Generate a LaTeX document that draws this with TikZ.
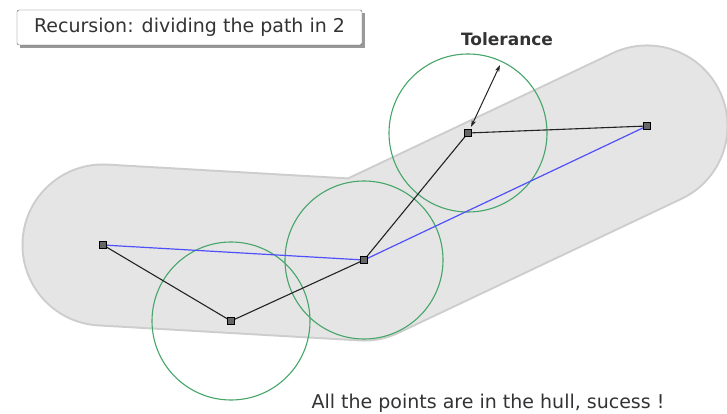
\documentclass[tikz,border=0pt]{standalone}
\usepackage{fontspec}
\setmainfont{DejaVu Sans}
\usetikzlibrary{arrows.meta}
\definecolor{hullfill}{RGB}{229,229,229}
\definecolor{hulledge}{RGB}{205,205,205}
\definecolor{tolgreen}{RGB}{70,165,105}
\definecolor{pathblue}{RGB}{80,80,250}
\definecolor{ink}{RGB}{35,35,35}
\begin{document}
\begin{tikzpicture}[x=1pt,y=-1pt,
  vertex/.style={rectangle, draw=black, fill=black!60, minimum size=7pt, inner sep=0pt, line width=0.9pt},
  tolcircle/.style={circle, draw=tolgreen, line width=1.1pt, minimum size=158pt, inner sep=0pt},
  poly/.style={draw=ink, line width=1.1pt},
  chord/.style={draw=pathblue, line width=1.2pt},
  label/.style={font=\fontsize{19pt}{22pt}\selectfont, text=black!80, inner sep=0pt}
]
\useasboundingbox (0,0) rectangle (727,414);
\coordinate (a) at (103,245);
\coordinate (b) at (231,321);
\coordinate (c) at (364,260);
\coordinate (d) at (468,133);
\coordinate (e) at (647,126);
% hull
\draw[hulledge, line width=163pt, line cap=round, line join=round] (a) -- (c) -- (e);
\draw[hullfill, line width=159pt, line cap=round, line join=round] (a) -- (c) -- (e);
% tolerance circles
\node[tolcircle] (cb) at (b) {};
\node[tolcircle] (cc) at (c) {};
\node[tolcircle] (cd) at (d) {};
% paths
\draw[chord] (a) -- (c) -- (e);
\draw[poly] (a) -- (b) -- (c) -- (d) -- (e);
\node[vertex] (va) at (a) {};
\node[vertex] (vb) at (b) {};
\node[vertex] (vc) at (c) {};
\node[vertex] (vd) at (d) {};
\node[vertex] (ve) at (e) {};
% tolerance arrow
\coordinate (t1) at (471,127);
\coordinate (t2) at (500,65);
\draw[ink, line width=1pt, {Stealth[length=7pt,width=4.5pt]}-{Stealth[length=7pt,width=4.5pt]}] (t1) -- (t2);
\node[label, font=\fontsize{17pt}{20pt}\selectfont\bfseries] (tol) at (507,39) {Tolerance};
% title box
\fill[black!40] (20,13) rectangle (365,48);
\node[draw=black!65, fill=white, rounded corners=2pt, minimum width=345pt, minimum height=35pt, inner sep=0pt] (tbox) at (189.5,27.5) {};
\node[label] (title) at (tbox.center) {Recursion: dividing the path in 2};
% bottom text
\node[label] (msg) at (488,403) {All the points are in the hull, sucess !};
\end{tikzpicture}
\end{document}
